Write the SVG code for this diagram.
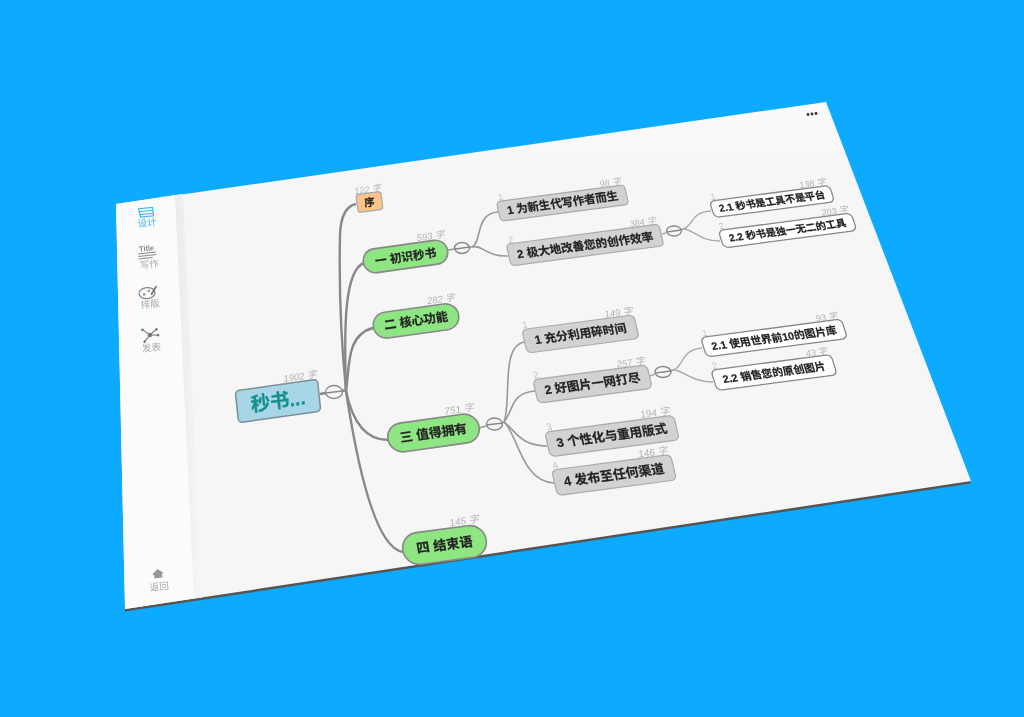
<svg xmlns="http://www.w3.org/2000/svg" width="1024" height="717" viewBox="0 0 1024 717">
<style>
text{font-family:"Liberation Sans","Noto Sans CJK SC",sans-serif}
.t{font-weight:700;fill:#222;stroke:#222;stroke-width:.2;text-anchor:middle;dominant-baseline:central}
.c{font-style:italic;fill:#b4b4b4;text-anchor:end;transform:translateY(2px)}
.n{fill:#c4c4c4;transform:translateY(2px)}
.b1{fill:#8ee683;stroke:#888;stroke-width:1.6}
.b2{fill:#d2d2d2;stroke:#aaa;stroke-width:1.2}
.b3{fill:#fff;stroke:#888;stroke-width:1.3}
.l1{fill:none;stroke:#888;stroke-width:2.4}
.l2{fill:none;stroke:#999;stroke-width:1.6}
.l3{fill:none;stroke:#aaa;stroke-width:1.4}
.j{fill:none;stroke:#888;stroke-width:1.3}
.s{fill:#aaa;text-anchor:middle;font-size:9.500px}
.ic{fill:none;stroke:#8a8a8a;stroke-width:1}
</style>
<defs>
<linearGradient id="sh" x1="0" x2="1" y1="0" y2="0"><stop offset="0" stop-color="#ebebeb"/><stop offset="1" stop-color="#f6f6f6"/></linearGradient>
<linearGradient id="top" x1="0" x2="0" y1="0" y2="1"><stop offset="0" stop-color="#fbfbfb"/><stop offset=".16" stop-color="#f6f6f6"/></linearGradient>
<filter id="soft" x="-5%" y="-5%" width="110%" height="110%"><feGaussianBlur stdDeviation="0.45"/></filter>
</defs>
<rect width="1024" height="717" fill="#0dabff"/>
<g filter="url(#soft)">
<polygon points="116,204 826,102 971,482 125,610" fill="#555" transform="translate(0,1.5)"/>
<polygon points="116,204 826,102 971,481 125,609" fill="url(#top)"/>
<polygon points="116,204 175,195 194,598.600 125,609" fill="#fbfbfb"/>
<polygon points="175,195 183,194 202,597.400 194,598.600" fill="url(#sh)"/>
<g fill="#333"><circle cx="808" cy="114.500" r="1.400"/><circle cx="812" cy="114" r="1.400"/><circle cx="816" cy="113.500" r="1.400"/></g>

<g id="sidebar">
<g id="nav-design" transform="translate(146,212) rotate(-6)"><g fill="none" stroke="#3db4f5" stroke-width="1.200"><path d="M-7,-4H7V4.500H-6ZM-7,-1H7M-6.500,2H7"/></g><text y="14" class="s" style="fill:#3db4f5">设计</text></g>
<g id="nav-write" transform="translate(147,252) rotate(-6)"><text y="-1" font-size="7.500" font-weight="700" fill="#888" text-anchor="middle">Title</text><path class="ic" d="M-9,1H9M-9,3.500H9M-9,6H5"/><text y="16" class="s" transform="translate(1,0)">写作</text></g>
<g id="nav-layout" transform="translate(148,293) rotate(-6)"><ellipse class="ic" style="stroke-width:1.300" cx="-1" cy="0" rx="8" ry="5.500"/><circle cx="-4" cy="1" r="1.300" fill="#999"/><circle cx="1" cy="-2" r="1.300" fill="#999"/><path d="M3,2L9,-6" stroke="#777" stroke-width="1.800"/><text y="14.500" class="s" transform="translate(1,0)">排版</text></g>
<g id="nav-publish" transform="translate(150,335) rotate(-6)"><path class="ic" style="stroke-width:1.300" d="M-7,-6L0,0L7,-5M-6,6L0,0L8,1"/><g fill="#777"><circle r="2.200"/><circle cx="-7" cy="-6" r="1.300"/><circle cx="7" cy="-5" r="1.300"/><circle cx="-6" cy="6" r="1.300"/><circle cx="8" cy="1" r="1.300"/></g><text y="16" class="s">发表</text></g>
<g id="nav-back" transform="translate(158,574) rotate(-6)"><path d="M-6,0L0,-5L6,0H4V4H-4V0Z" fill="#999"/><text y="16" class="s">返回</text></g>
</g>

<g id="connectors">
<path class="l1" d="M320,394L326,393M342,391L346,390C341,340 339,280 340,235Q341,207 356,204"/>
<path class="l1" d="M346,390C344,330 344,270 364,263"/>
<path class="l1" d="M346,390C350,370 345,335 373,328"/>
<path class="l1" d="M346,391C352,420 365,440 388,440"/>
<path class="l1" d="M346,391C358,470 376,548 403,552"/>
<path class="l2" d="M448,250L455,249M470,247L472,247C482,243 475,213 498,212"/>
<path class="l2" d="M472,247C482,244 486,257 508,256"/>
<path class="l2" d="M479,428L486,426M502,423L504,422C512,400 500,345 525,342"/>
<path class="l2" d="M504,422C514,410 510,393 535,391"/>
<path class="l2" d="M504,422C515,430 520,446 547,446"/>
<path class="l2" d="M504,422C518,435 522,482 554,483"/>
<path class="l3" d="M662,234L666,233M681,230L683,229C694,226 690,212 711,211"/>
<path class="l3" d="M683,229C692,228 698,241 720,241"/>
<path class="l3" d="M650,376L655,374M671,371L673,370C684,367 680,350 702,348"/>
<path class="l3" d="M673,370C682,369 690,382 713,382"/>
<ellipse class="j" cx="334" cy="392" rx="8.500" ry="6.500"/><path class="j" d="M326,393L342,391"/>
<ellipse class="j" cx="462" cy="248" rx="7.500" ry="5.500"/><path class="j" d="M455,249L470,247"/>
<ellipse class="j" cx="494.500" cy="424" rx="8" ry="6"/><path class="j" d="M486,425L503,423"/>
<ellipse class="j" cx="663" cy="372" rx="8" ry="5.500"/><path class="j" d="M655,373L671,371"/>
<ellipse class="j" cx="674" cy="231" rx="7.500" ry="5"/><path class="j" d="M667,232L681,230"/>
</g>

<g id="root" transform="translate(278,401) rotate(-8) skewX(-2)"><rect x="-41.500" y="-16" width="83" height="32" rx="4" fill="#a9d6e6" stroke="#7b8f96" stroke-width="1.500"/><text class="t" font-size="19.500" style="fill:#14908f;stroke:#14908f" y="0">秒书...</text><text x="41" y="-20" class="c" font-size="9.500">1902 字</text></g>

<g id="n-xu" transform="translate(369.500,202) rotate(-7.500)"><rect x="-12.500" y="-9" width="25" height="18" rx="3" fill="#fbc488" stroke="#aaa" stroke-width="1.200"/><text class="t" font-size="10.500">序</text><text x="13" y="-11.500" class="c" font-size="9">122 字</text></g>
<g id="n-1" transform="translate(405.500,256.500) rotate(-8) skewX(1)"><rect x="-42.500" y="-12" width="85" height="24" rx="12" class="b1"/><text class="t" font-size="11.700">一 初识秒书</text><text x="42" y="-15.500" class="c" font-size="9.500">593 字</text></g>
<g id="n-2" transform="translate(416,321) rotate(-8) skewX(1)"><rect x="-43" y="-13" width="86" height="26" rx="13" class="b1"/><text class="t" font-size="12.200">二 核心功能</text><text x="42" y="-17" class="c" font-size="9.500">282 字</text></g>
<g id="n-3" transform="translate(433.500,433) rotate(-8) skewX(2)"><rect x="-46" y="-14.500" width="92" height="29" rx="14.500" class="b1"/><text class="t" font-size="12.800">三 值得拥有</text><text x="44" y="-18.500" class="c" font-size="10">751 字</text></g>
<g id="n-4" transform="translate(444.500,545) rotate(-7.500) skewX(2)"><rect x="-42" y="-16" width="84" height="32" rx="16" class="b1"/><text class="t" font-size="13.200">四 结束语</text><text x="38" y="-20" class="c" font-size="10">145 字</text></g>

<g id="n-1-1" transform="translate(562.500,203) rotate(-7.500) skewX(5)"><rect x="-64.500" y="-10" width="129" height="20" rx="4" class="b2"/><text class="t" font-size="11.400">1 为新生代写作者而生</text><text x="62" y="-13" class="c" font-size="9">98 字</text><text x="-62" y="-13" class="n" font-size="9">1</text></g>
<g id="n-1-2" transform="translate(585,245) rotate(-7.500) skewX(5.500)"><rect x="-77" y="-11" width="154" height="22" rx="4" class="b2"/><text class="t" font-size="11.600">2 极大地改善您的创作效率</text><text x="75" y="-14" class="c" font-size="9">384 字</text><text x="-74" y="-14" class="n" font-size="9">2</text></g>
<g id="n-1-2-1" transform="translate(772,201.500) rotate(-7.500) skewX(10)"><rect x="-60.500" y="-8.500" width="121" height="17" rx="5" class="b3"/><text class="t" font-size="10">2.1 秒书是工具不是平台</text><text x="58" y="-11.500" class="c" font-size="9">138 字</text><text x="-58" y="-11.500" class="n" font-size="9">1</text></g>
<g id="n-1-2-2" transform="translate(787.500,230.500) rotate(-7.500) skewX(10.500)"><rect x="-67" y="-9" width="134" height="18" rx="5" class="b3"/><text class="t" font-size="10.100">2.2 秒书是独一无二的工具</text><text x="65" y="-12" class="c" font-size="9">203 字</text><text x="-65" y="-12" class="n" font-size="9">2</text></g>
<g id="n-3-1" transform="translate(580.500,334) rotate(-7.500) skewX(5.500)"><rect x="-56.500" y="-12" width="113" height="24" rx="5" class="b2"/><text class="t" font-size="11.800">1 充分利用碎时间</text><text x="56" y="-15" class="c" font-size="9.500">149 字</text><text x="-55" y="-15" class="n" font-size="9.500">1</text></g>
<g id="n-3-2" transform="translate(592.500,384) rotate(-7.500) skewX(5.500)"><rect x="-57.500" y="-12" width="115" height="24" rx="5" class="b2"/><text class="t" font-size="12.300">2 好图片一网打尽</text><text x="56" y="-15" class="c" font-size="9.500">257 字</text><text x="-56" y="-15" class="n" font-size="9.500">2</text></g>
<g id="n-3-3" transform="translate(612,436) rotate(-7.500) skewX(6)"><rect x="-65" y="-12.500" width="130" height="25" rx="5" class="b2"/><text class="t" font-size="12.600">3 个性化与重用版式</text><text x="62" y="-16" class="c" font-size="10">194 字</text><text x="-62" y="-16" class="n" font-size="10">3</text></g>
<g id="n-3-4" transform="translate(614,475) rotate(-7.500) skewX(6)"><rect x="-60" y="-13" width="120" height="26" rx="5" class="b2"/><text class="t" font-size="12.900">4 发布至任何渠道</text><text x="58" y="-16" class="c" font-size="10">146 字</text><text x="-58" y="-16" class="n" font-size="10">4</text></g>
<g id="n-3-2-1" transform="translate(774,338) rotate(-7.500) skewX(10)"><rect x="-71" y="-10" width="142" height="20" rx="5" class="b3"/><text class="t" font-size="10.700">2.1 使用世界前10的图片库</text><text x="68" y="-13" class="c" font-size="9">93 字</text><text x="-68" y="-13" class="n" font-size="9">1</text></g>
<g id="n-3-2-2" transform="translate(774,372.500) rotate(-7.500) skewX(10)"><rect x="-60.500" y="-10.500" width="121" height="21" rx="5" class="b3"/><text class="t" font-size="10.700">2.2 销售您的原创图片</text><text x="58" y="-13.500" class="c" font-size="9">43 字</text><text x="-58" y="-13.500" class="n" font-size="9">2</text></g>
</g>
</svg>
